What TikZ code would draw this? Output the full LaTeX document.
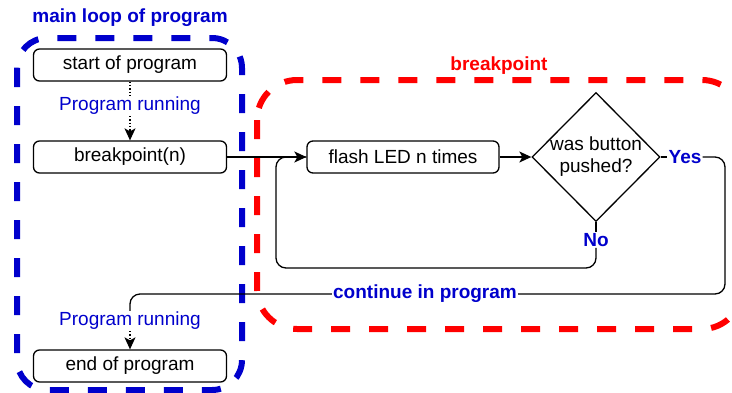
\documentclass[tikz,border=0pt]{standalone}
\usepackage{fontspec}
\setmainfont{Liberation Sans}
\usetikzlibrary{shapes.geometric,arrows.meta}
\definecolor{loopblue}{HTML}{0000CC}
\definecolor{bpred}{HTML}{FF0000}
\begin{document}
\begin{tikzpicture}[x=1pt,y=-1pt,
  every node/.style={font=\fontsize{19}{22}\selectfont},
  stepbox/.style={draw, line width=1.3pt, rounded corners=6pt, fill=white,
    minimum width=193pt, minimum height=32pt, inner sep=0pt},
  decision/.style={draw, diamond, line width=1.3pt, fill=white, inner sep=0pt,
    minimum width=128pt, minimum height=129pt},
  lbl/.style={text=loopblue, fill=white, inner sep=1pt},
  blbl/.style={text=loopblue, font=\fontsize{19}{22}\selectfont\bfseries, fill=white, inner sep=1pt},
  conn/.style={line width=1.3pt, rounded corners=10pt},
  tip/.style={-{Stealth[length=12pt,width=11pt,inset=3pt]}},
  frame/.style={line width=6pt, dash pattern=on 19pt off 19pt},
]
\useasboundingbox (0,0) rectangle (732,392);

% group frames
\draw[frame, loopblue, rounded corners=30pt] (17,38) rectangle (242,390);
\draw[frame, bpred, rounded corners=40pt] (257,80) rectangle (742,329);
\node[text=loopblue, font=\fontsize{19}{22}\selectfont\bfseries] (tmain) at (130,18) {main loop of program};
\node[text=bpred, font=\fontsize{19}{22}\selectfont\bfseries] (tbp) at (499,66) {breakpoint};

% main loop steps
\node[stepbox] (start) at (130,65) {start of program};
\node[stepbox] (bp) at (130,157) {breakpoint(n)};
\node[stepbox] (end) at (130,366) {end of program};
\node[lbl] (run1) at (130,106) {Program running};
\node[lbl] (run2) at (130,321) {Program running};

% breakpoint steps
\node[stepbox, minimum width=192pt] (flash) at (403,157) {flash LED n times};
\node[decision] (dia) at (596,157) {};
\node[align=center] (diatext) at (dia.center) {was button\\pushed?};
\node[blbl] (yes) at (685,157) {Yes};
\node[blbl] (no) at (596,240) {No};
\node[blbl] (cont) at (425,294) {continue in program};

\coordinate (yesr) at (725,157);
\coordinate (yesd) at (725,294);
\coordinate (contl) at (130,294);
\coordinate (nod) at (596,268);
\coordinate (loopl) at (276,268);
\coordinate (loopu) at (276,157);

% connectors
\draw[conn, dotted] (start.south) -- (run1.north);
\draw[conn, dotted, tip] (run1.south) -- (bp.north);
\draw[conn, tip] (bp.east) -- (flash.west);
\draw[conn, tip] (flash.east) -- (dia.west);
\draw[conn] (dia.east) -- (yes.west);
\draw[conn] (yes.east) -- (yesr) -- (yesd) -- (cont.east);
\draw[conn] (cont.west) -- (contl) -- (run2.north);
\draw[conn, dotted, tip] (run2.south) -- (end.north);
\draw[conn] (dia.south) -- (no.north);
\draw[conn] (no.south) -- (nod) -- (loopl) -- (loopu) -- (flash.west);
\end{tikzpicture}
\end{document}
